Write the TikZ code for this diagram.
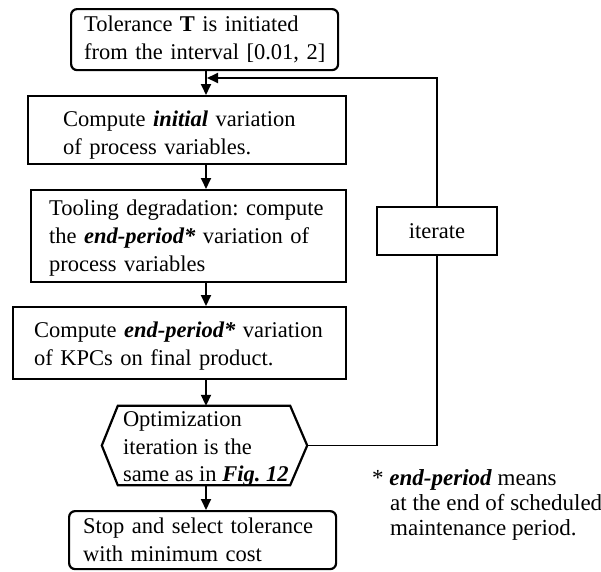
\documentclass[tikz,border=0pt]{standalone}
\usepackage{fontspec}
\setmainfont{Liberation Serif}
\usetikzlibrary{arrows.meta}
\frenchspacing
\newcommand{\bi}[1]{\textbf{\textit{#1}}}
% unbreakable block of left-aligned lines
\newcommand{\textlines}[1]{\begin{tabular}{@{}l@{}}#1\end{tabular}}
% same block, drawn lower by #1 without changing its size
\newcommand{\lowlines}[2]{\raisebox{-#1}[\height][\depth]{\textlines{#2}}}
\begin{document}
\begin{tikzpicture}[x=1pt,y=-1pt,
  every node/.style={font=\fontsize{22.5}{27}\selectfont},
  procbox/.style={draw, line width=2.2pt, rectangle, anchor=north west,
    align=left, inner ysep=0pt},
  termbox/.style={procbox, rounded corners=6pt},
  link/.style={line width=1.8pt},
  flow/.style={link, -{Triangle[length=11pt,width=10pt]}}]
\useasboundingbox (0,0) rectangle (601,571);
\renewcommand{\arraystretch}{1.03}

% main column of steps
\node[termbox, text width=241pt, inner xsep=13pt, minimum height=61pt] (init) at (70,8)
  {\textlines{Tolerance \textbf{T} is initiated\\from the interval [0.01, 2]}};
\node[procbox, text width=248pt, inner xsep=35pt, minimum height=68pt] (initvar) at (27,95)
  {\lowlines{5pt}{Compute \bi{initial} variation\\of process variables.}};
\node[procbox, text width=279pt, inner xsep=18pt, minimum height=92pt] (degr) at (30,189)
  {\lowlines{2pt}{Tooling degradation: compute\\the \bi{end-period*} variation of\\process variables}};
\node[procbox, text width=291pt, inner xsep=21pt, minimum height=72pt] (kpc) at (12,306)
  {\lowlines{3pt}{Compute \bi{end-period*} variation\\of KPCs on final product.}};

% optimization step: hexagon outline with its text set slightly low
\node[inner sep=0pt, minimum width=205pt, minimum height=79pt] (opt) at (204.5,445.5) {};
\draw[line width=2.2pt, line join=miter]
  ([xshift=16pt]opt.north west) -- ([xshift=-17pt]opt.north east) -- (opt.east)
  -- ([xshift=-17pt]opt.south east) -- ([xshift=16pt]opt.south west) -- (opt.west) -- cycle;
\node[align=left, anchor=west, inner sep=0pt] (opttext) at ([xshift=21pt,yshift=-3pt]opt.west)
  {\textlines{Optimization\\iteration is the\\same as in \bi{Fig. 12}}};

\node[termbox, text width=239pt, inner xsep=14pt, minimum height=58pt] (stop) at (68,510)
  {\lowlines{1.5pt}{Stop and select tolerance\\with minimum cost}};

% loop-back box
\node[draw, line width=2pt, minimum width=120pt, minimum height=48pt] (iter) at (437,231) {iterate};

% footnote
\node[align=left, anchor=west, inner sep=0pt,
  font=\fontsize{23}{25}\selectfont] (note) at (372,505)
  {* \bi{end-period} means\\\hspace*{18pt}at the end of scheduled\\\hspace*{18pt}maintenance period.};

% connectors
\coordinate (axis) at (206,0);
\coordinate (join) at (207,78);
\draw[flow] (init.south -| axis) -- (initvar.north -| axis);
\draw[flow] (initvar.south -| axis) -- (degr.north -| axis);
\draw[flow] (degr.south -| axis) -- (kpc.north -| axis);
\draw[flow] (kpc.south -| axis) -- (opt.north -| axis);
\draw[flow] (opt.south -| axis) -- (stop.north -| axis);
\draw[link] (opt.east) -- (opt.east -| iter.south) -- (iter.south);
\draw[flow] (iter.north) -- (iter.north |- join) -- (join);
\end{tikzpicture}
\end{document}
